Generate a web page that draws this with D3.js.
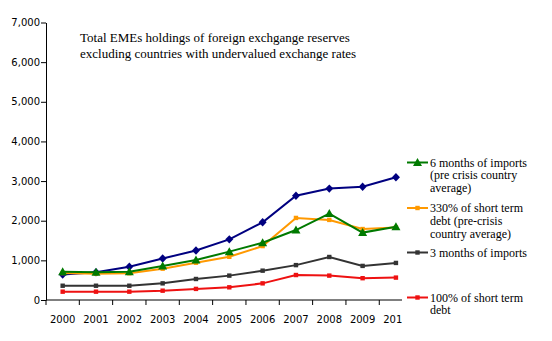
<!DOCTYPE html>
<html><head><meta charset="utf-8">
<script src="https://cdn.jsdelivr.net/npm/d3@7"></script>
<style>body{margin:0;background:#fff}svg{display:block}</style>
</head><body>
<svg id="c" width="552" height="341"></svg>
<script>
const years = ["2000","2001","2002","2003","2004","2005","2006","2007","2008","2009","2010"];
const total = [645, 700, 840, 1045, 1250, 1530, 1960, 2630, 2810, 2855, 3095];
const imports6 = [710, 700, 715, 855, 1010, 1220, 1445, 1765, 2180, 1700, 1850];
const debt330 = [680, 665, 675, 790, 940, 1090, 1360, 2070, 2020, 1790, 1830];
const imports3 = [360, 360, 360, 420, 530, 615, 740, 880, 1085, 860, 935];
const debt100 = [210, 210, 210, 235, 280, 320, 420, 630, 615, 550, 565];
const yTicks = [0, 1000, 2000, 3000, 4000, 5000, 6000, 7000];
const titleLines = ["Total EMEs holdings of foreign exchgange reserves", "excluding countries with undervalued exchange rates"];

const series = [
  {name: "Total", values: total, color: "#000080", marker: "diamond", legend: null},
  {name: "330%", values: debt330, color: "#FF9900", marker: "square", legend: ["330% of short term", "debt (pre-crisis", "country average)"], ly: 208},
  {name: "6m", values: imports6, color: "#007A00", marker: "triangle", legend: ["6 months of imports", "(pre crisis country", "average)"], ly: 162.5},
  {name: "3m", values: imports3, color: "#333333", marker: "square", legend: ["3 months of imports"], ly: 252.5},
  {name: "100%", values: debt100, color: "#EE1111", marker: "square", legend: ["100% of short term", "debt"], ly: 297.5}
];

const svg = d3.select("#c");
const x = d3.scaleBand().domain(years).range([46, 412.6]);
const y = d3.scaleLinear().domain([0, 7000]).range([300, 22.5]);

// axes
const yAxis = d3.axisLeft(y).tickValues(yTicks).tickFormat(d3.format(",")).tickSize(5).tickSizeOuter(0);
const gy = svg.append("g").attr("transform", "translate(46,0)").call(yAxis);
gy.select(".domain").attr("stroke", "#000");
gy.selectAll("text").attr("font-family", "DejaVu Sans").attr("font-size", 10).attr("fill", "#000").attr("x", -6);

const gx = svg.append("g").attr("transform", "translate(0,300)");
gx.append("line").attr("x1", 46).attr("x2", 412.6).attr("y1", 0).attr("y2", 0).attr("stroke", "#000");
const edges = years.map(d => x(d)).concat([x.range()[1]]);
gx.selectAll("line.t").data(edges).join("line").attr("class", "t")
  .attr("x1", d => d).attr("x2", d => d).attr("y1", 0).attr("y2", 5).attr("stroke", "#000");
gx.selectAll("text").data(years).join("text")
  .attr("x", d => x(d) + x.bandwidth() / 2).attr("y", 23)
  .attr("text-anchor", "middle").attr("font-family", "DejaVu Sans").attr("font-size", 10).text(d => d);

const cx = d => x(d) + x.bandwidth() / 2;
const line = d3.line().x((v, i) => cx(years[i])).y(v => y(v));

function drawMarker(g, type, px, py, color) {
  if (type === "diamond") {
    g.append("path").attr("d", `M${px},${py-4.2}L${px+4},${py}L${px},${py+4.2}L${px-4},${py}Z`).attr("fill", color);
  } else if (type === "triangle") {
    g.append("path").attr("d", `M${px},${py-4.5}L${px+4.5},${py+3.5}L${px-4.5},${py+3.5}Z`).attr("fill", color);
  } else {
    g.append("rect").attr("x", px - 2.2).attr("y", py - 2.2).attr("width", 4.4).attr("height", 4.4).attr("fill", color);
  }
}

series.forEach(s => {
  const g = svg.append("g");
  g.append("path").attr("d", line(s.values)).attr("fill", "none").attr("stroke", s.color).attr("stroke-width", 2);
  s.values.forEach((v, i) => drawMarker(g, s.marker, cx(years[i]), y(v), s.color));
});

// legend area (covers right side of plot)
svg.append("rect").attr("x", 402).attr("y", 140).attr("width", 150).attr("height", 201).attr("fill", "#fff");
series.filter(s => s.legend).forEach(s => {
  const g = svg.append("g");
  g.append("line").attr("x1", 407).attr("x2", 428).attr("y1", s.ly).attr("y2", s.ly).attr("stroke", s.color).attr("stroke-width", 2);
  drawMarker(g, s.marker, 417.5, s.ly, s.color);
  s.legend.forEach((t, i) => {
    g.append("text").attr("x", 430).attr("y", s.ly + 4.3 + i * 12.6)
      .attr("font-family", "Liberation Serif").attr("font-size", 12).text(t);
  });
});

// title
titleLines.forEach((t, i) => {
  svg.append("text").attr("x", 80).attr("y", 42 + i * 16)
    .attr("font-family", "Liberation Serif").attr("font-size", 13).text(t);
});
</script>
</body></html>
